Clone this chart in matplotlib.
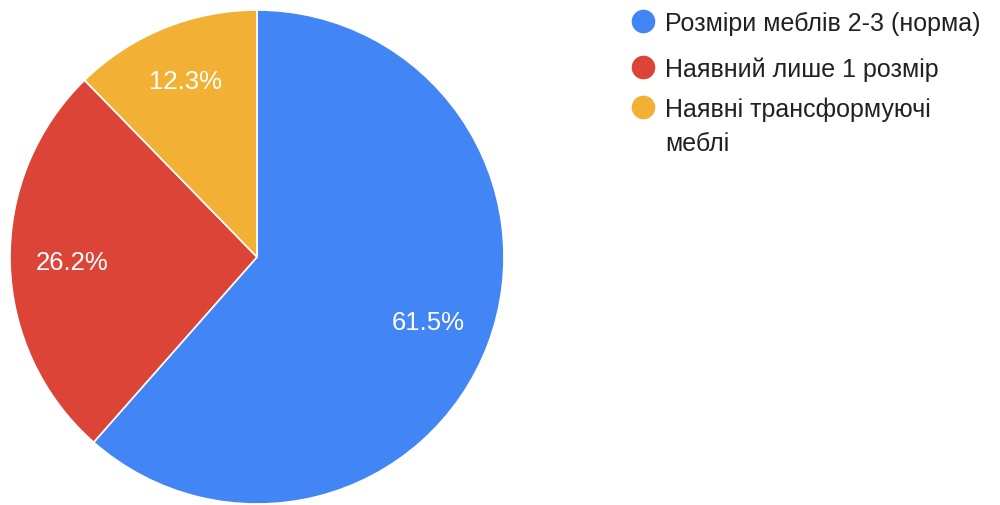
import matplotlib.pyplot as plt

# Дані діаграми
labels = ['Розміри меблів 2-3 (норма)', 'Наявний лише 1 розмір', 'Наявні трансформуючі\nмеблі']
values = [61.5, 26.2, 12.3]
colors = ['#4285F4', '#DB4437', '#F2B134']

plt.rcParams['font.family'] = ['Liberation Sans', 'DejaVu Sans']

fig = plt.figure(figsize=(10, 5.06), dpi=100)

# Кругова діаграма: центр (257, 258), радіус 247 пікселів
ax = fig.add_axes([10 / 1000, (506 - 258 - 247) / 506, 494 / 1000, 494 / 506])
wedges, texts, autotexts = ax.pie(
    values, colors=colors, startangle=90, counterclock=False,
    autopct='%.1f%%', pctdistance=0.75,
    wedgeprops=dict(edgecolor='white', linewidth=1.2),
    textprops=dict(color='white', fontsize=18.5),
)
# підписи трохи на різній відстані від центру, як у Google Forms
for t, d in zip(autotexts, [0.74, 0.75, 0.77]):
    x, y = t.get_position()
    t.set_position((x / 0.75 * d, y / 0.75 * d))
ax.set_xlim(-1, 1)
ax.set_ylim(-1, 1)
ax.set_aspect('equal')

# Легенда вручну (координати в пікселях)
lax = fig.add_axes([0, 0, 1, 1])
lax.set_xlim(0, 1000)
lax.set_ylim(506, 0)
lax.axis('off')
centers = [22, 68, 108]
for lab, col, cy in zip(labels, colors, centers):
    lax.plot([643], [cy], marker='o', markersize=17, color=col, markeredgewidth=0)
    for i, line in enumerate(lab.split('\n')):
        lax.text(665, cy + 8.5 + i * 34.5, line, fontsize=18, color='#212121',
                 va='baseline', ha='left')

fig.savefig('out.png', dpi=100)
